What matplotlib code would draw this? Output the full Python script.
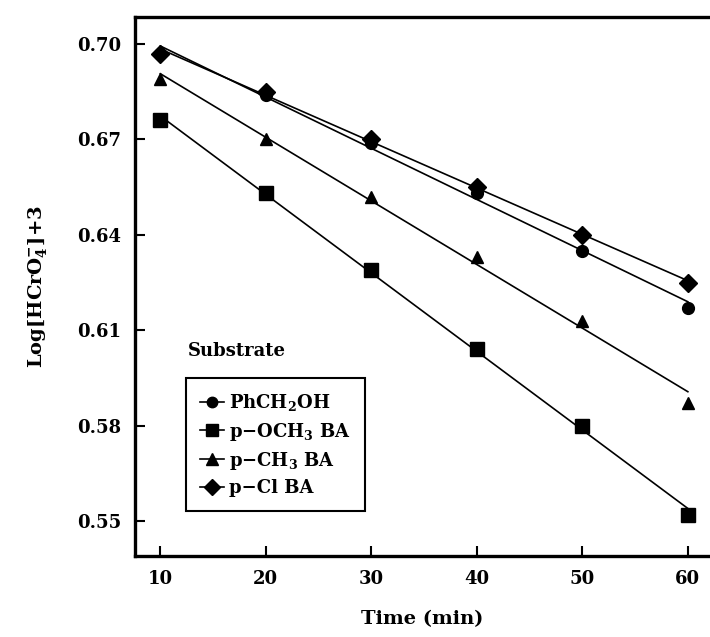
import numpy as np
import matplotlib
matplotlib.use("Agg")
import matplotlib.pyplot as plt

time_min = [10, 20, 30, 40, 50, 60]
ph_ch2oh = [0.697, 0.684, 0.669, 0.653, 0.635, 0.617]
p_och3 = [0.676, 0.653, 0.629, 0.604, 0.580, 0.552]
p_ch3 = [0.689, 0.670, 0.652, 0.633, 0.613, 0.587]
p_cl = [0.697, 0.685, 0.670, 0.655, 0.640, 0.625]

labels = ["PhCH$_2$OH", "p\u2212OCH$_3$ BA", "p\u2212CH$_3$ BA", "p\u2212Cl BA"]
series = [ph_ch2oh, p_och3, p_ch3, p_cl]
markers = ["o", "s", "^", "D"]
msizes = [8.5, 9.5, 9, 9]

xticks = [10, 20, 30, 40, 50, 60]
yticks = [0.55, 0.58, 0.61, 0.64, 0.67, 0.70]

plt.rcParams["font.family"] = ["DejaVu Serif"]
plt.rcParams["font.weight"] = "bold"
plt.rcParams["mathtext.fontset"] = "dejavuserif"
plt.rcParams["mathtext.default"] = "bf"

fig = plt.figure(figsize=(7.10, 6.37), dpi=100)
ax = fig.add_axes([135 / 710, 1 - 556 / 637, 1 - 135 / 710, (556 - 17) / 637])

x = np.array(time_min, dtype=float)
for ys, lab, m, ms in zip(series, labels, markers, msizes):
    ys = np.array(ys)
    k, b = np.polyfit(x, ys, 1)
    ax.plot(x, ys, linestyle="none", marker=m, markersize=ms, color="black")
    ax.plot([x[0], x[-1]], [k * x[0] + b, k * x[-1] + b], color="black", linewidth=1.2)
    ax.plot([], [], color="black", linewidth=1.2, marker=m, markersize=ms - 1, label=lab)

ax.set_xlim(7.6, 62.1)
ax.set_ylim(0.539, 0.7085)
ax.set_xticks(xticks)
ax.set_xticklabels([str(t) for t in xticks])
ax.set_yticks(yticks)
ax.set_yticklabels([f"{t:.2f}" for t in yticks])
ax.tick_params(direction="in", length=7, width=1.5, labelsize=13, pad=10)
for s in ["left", "bottom", "top"]:
    ax.spines[s].set_linewidth(2.4)
ax.spines["right"].set_visible(False)

ax.set_xlabel("Time (min)", fontsize=14, fontweight="bold", labelpad=16)
ax.set_ylabel("Log[HCrO$_4^{-}$]+3", fontsize=14, fontweight="bold", labelpad=20)

ax.text(12.6, 0.6035, "Substrate", fontsize=13, fontweight="bold", va="center", ha="left")

leg = ax.legend(loc="upper left", bbox_to_anchor=(12.4, 0.595), bbox_transform=ax.transData,
                frameon=True, fancybox=False, framealpha=1, fontsize=13, handlelength=1.3,
                handletextpad=0.3, labelspacing=0.4, borderpad=0.8, borderaxespad=0)
leg.get_frame().set_edgecolor("black")
leg.get_frame().set_linewidth(1.5)

fig.savefig("out.png", dpi=100)
